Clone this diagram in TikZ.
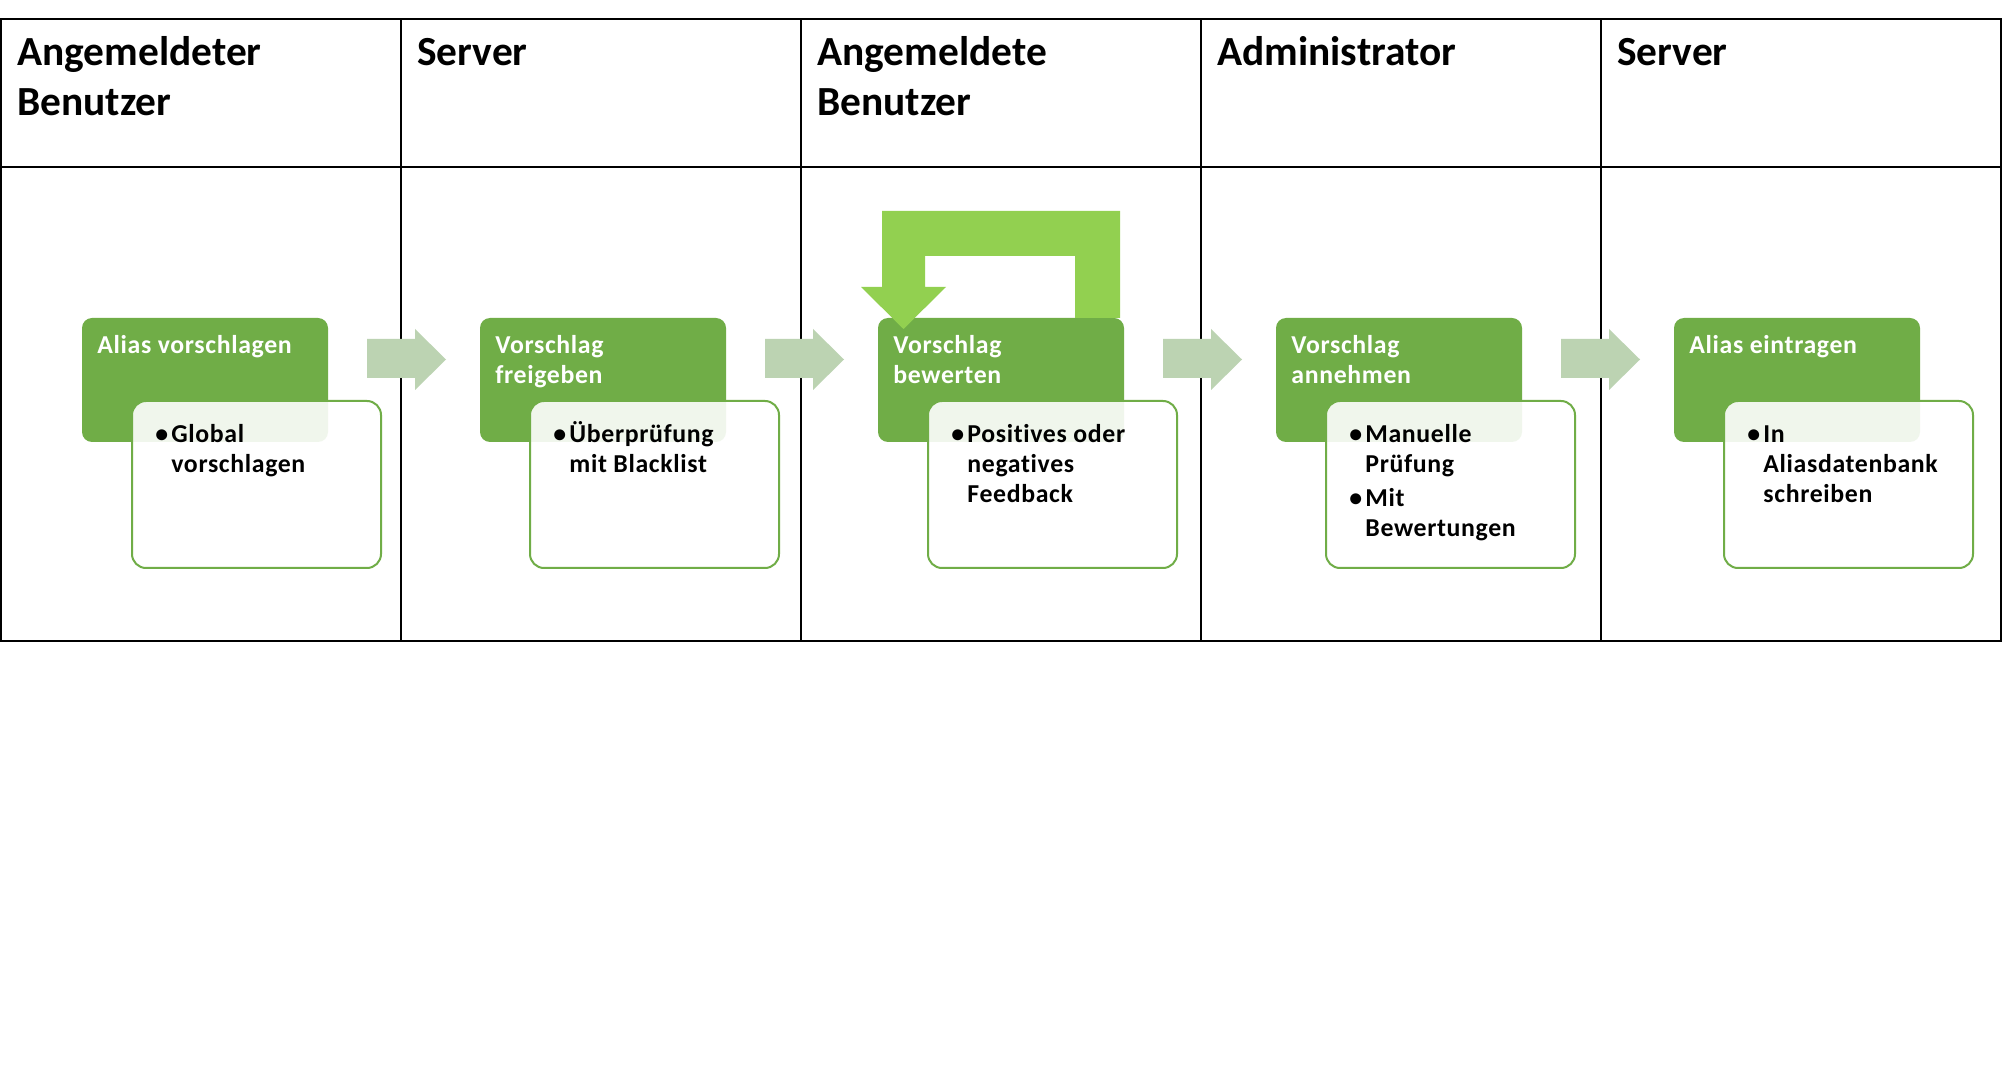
\documentclass[tikz,border=0pt]{standalone}
\usepackage{fontspec}
\setmainfont{Carlito}[Ligatures=NoCommon]
\newfontfamily\widefam{Carlito}[LetterSpace=2.5,Ligatures=NoCommon]
\definecolor{accgreen}{RGB}{112,173,71}
\definecolor{loopgreen}{RGB}{146,208,80}
\definecolor{arrowgreen}{RGB}{188,211,178}
\newcommand\hdrfnt{\fontsize{20.7pt}{25pt}\selectfont\bfseries}
\newcommand\ttlfnt{\widefam\fontsize{12.9pt}{14.6pt}\selectfont\bfseries}
\newcommand\bulfnt{\widefam\fontsize{12.9pt}{15pt}\selectfont\bfseries}
\newcommand\bul{\makebox[8pt][l]{\rmfamily\bfseries\textbullet}}
\begin{document}
\begin{tikzpicture}[x=0.5pt,y=-0.5pt,
  tableline/.style={draw=black,line width=1pt},
  flowarrow/.style={fill=arrowgreen},
  loopshape/.style={fill=loopgreen},
  titlebox/.style={fill=accgreen,rounded corners=5pt},
  detailbox/.style={draw=accgreen,line width=1pt,fill=white,fill opacity=0.9,rounded corners=7pt},
  hdr/.style={anchor=base west,inner sep=0pt,font=\hdrfnt},
  ttl/.style={anchor=base west,inner sep=0pt,text=white,font=\ttlfnt},
  bulltext/.style={anchor=base west,inner sep=0pt,font=\bulfnt}]
\useasboundingbox[fill=white] (0,0) rectangle (2004,1069);
% table
\draw[tableline] (1,19) rectangle (2001,641);
\draw[tableline] (1,167) -- (2001,167);
\foreach \cx in {401,801,1201,1601} \draw[tableline] (\cx,19) -- (\cx,641);
% headers
\node[hdr] (h1) at (17,66) {\begin{tabular}[t]{@{}l@{}}Angemeldeter\\Benutzer\end{tabular}};
\node[hdr] (h2) at (417,66) {\begin{tabular}[t]{@{}l@{}}Server\end{tabular}};
\node[hdr] (h3) at (817,66) {\begin{tabular}[t]{@{}l@{}}Angemeldete\\Benutzer\end{tabular}};
\node[hdr] (h4) at (1217,66) {\begin{tabular}[t]{@{}l@{}}Administrator\end{tabular}};
\node[hdr] (h5) at (1617,66) {\begin{tabular}[t]{@{}l@{}}Server\end{tabular}};
% block arrows between steps
\foreach \k in {0,1,2,3} {
  \fill[flowarrow,xshift=\k*199pt] (367,339) -- (415,339) -- (415,329) -- (446,359.5)
     -- (415,390) -- (415,378) -- (367,378) -- cycle;
}
% title boxes
\foreach \k in {0,1,2,3,4} {
  \fill[titlebox] ({82+398*\k},318) rectangle ++(246,124);
}
% loop arrow
\fill[loopshape] (1120,318) -- (1120,211) -- (882,211) -- (882,287) -- (861,287)
  -- (903.5,329) -- (946,287) -- (925,287) -- (925,256) -- (1075,256) -- (1075,318) -- cycle;
% detail boxes
\foreach \k in {0,1,2,3,4} {
  \draw[detailbox] ({132+398*\k},401) rectangle ++(249,167);
}
% titles
\node[ttl] (t1) at (97,354) {\begin{tabular}[t]{@{}l@{}}Alias vorschlagen\end{tabular}};
\node[ttl] (t2) at (495,354) {\begin{tabular}[t]{@{}l@{}}Vorschlag\\freigeben\end{tabular}};
\node[ttl] (t3) at (893,354) {\begin{tabular}[t]{@{}l@{}}Vorschlag\\bewerten\end{tabular}};
\node[ttl] (t4) at (1291,354) {\begin{tabular}[t]{@{}l@{}}Vorschlag\\annehmen\end{tabular}};
\node[ttl] (t5) at (1689,354) {\begin{tabular}[t]{@{}l@{}}Alias eintragen\end{tabular}};
% bullet texts
\node[bulltext] (b1) at (155,443) {\begin{tabular}[t]{@{}l@{}l@{}}\bul&Global\\&vorschlagen\end{tabular}};
\node[bulltext] (b2) at (553,443) {\begin{tabular}[t]{@{}l@{}l@{}}\bul&Überprüfung\\&mit Blacklist\end{tabular}};
\node[bulltext] (b3) at (951,443) {\begin{tabular}[t]{@{}l@{}l@{}}\bul&Positives oder\\&negatives\\&Feedback\end{tabular}};
\node[bulltext] (b4) at (1349,443) {\begin{tabular}[t]{@{}l@{}l@{}}\bul&Manuelle\\&Prüfung\\[2pt]\bul&Mit\\&Bewertungen\end{tabular}};
\node[bulltext] (b5) at (1747,443) {\begin{tabular}[t]{@{}l@{}l@{}}\bul&In\\&Aliasdatenbank\\&schreiben\end{tabular}};
\end{tikzpicture}
\end{document}
